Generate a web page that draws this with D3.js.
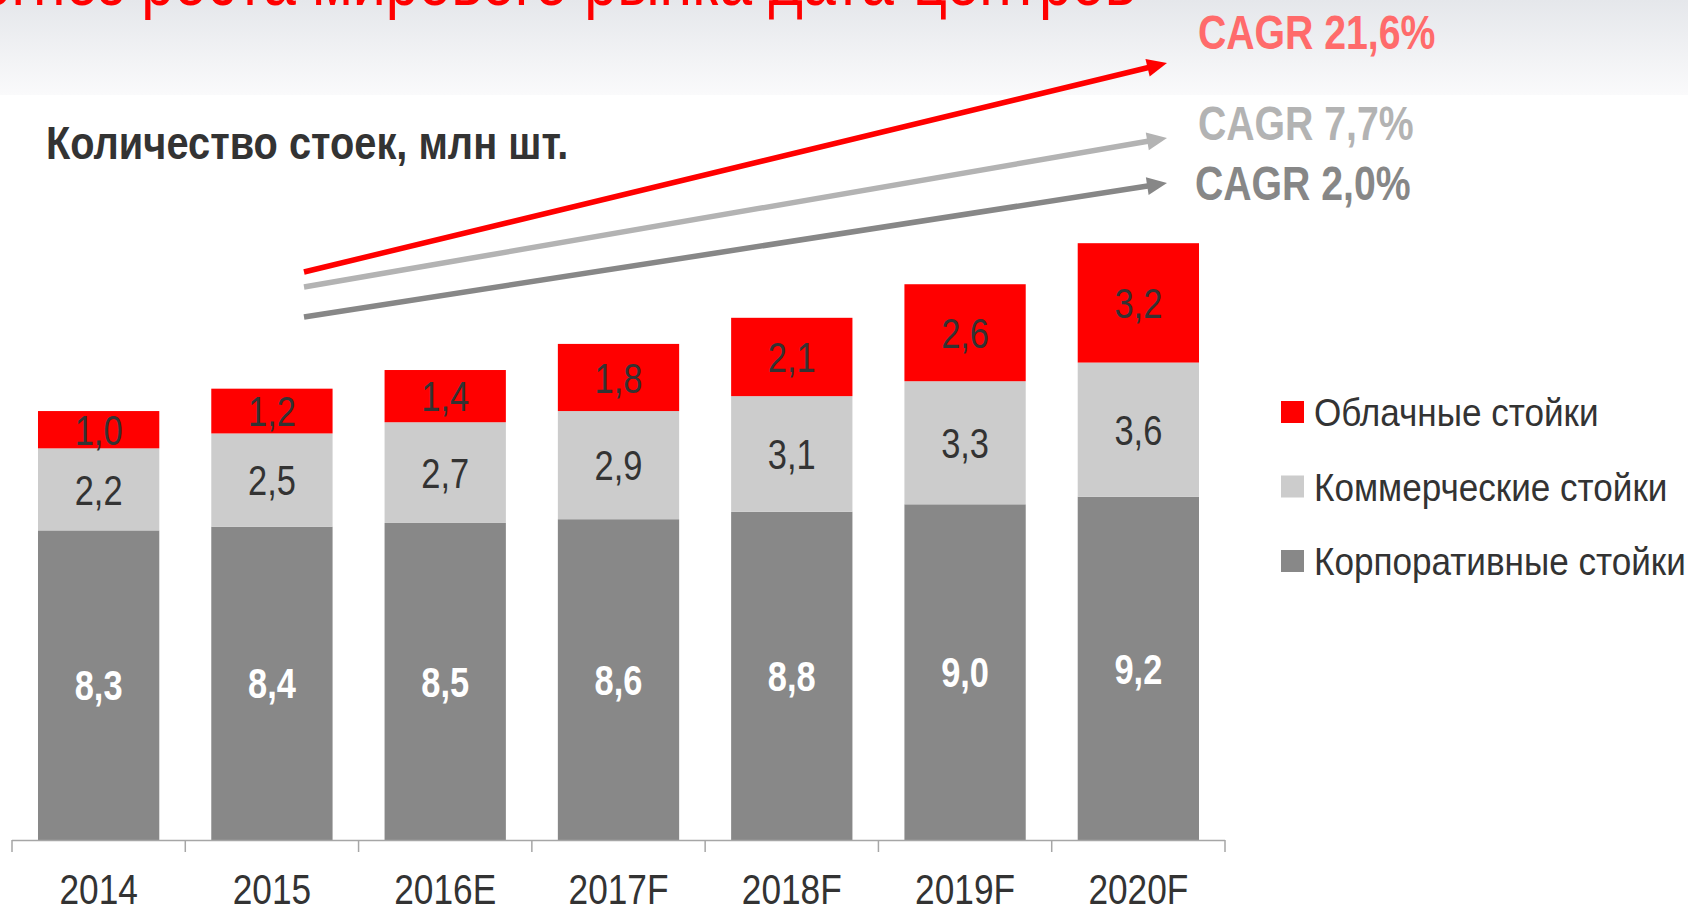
<!DOCTYPE html>
<html>
<head>
<meta charset="utf-8">
<script src="https://cdn.jsdelivr.net/npm/d3@7"></script>
<style>
  html, body { margin: 0; padding: 0; background: #ffffff; }
  svg { display: block; }
</style>
</head>
<body>
<svg id="chart" width="1688" height="908"></svg>
<script>
// ---------------- data ----------------
const years = ["2014", "2015", "2016E", "2017F", "2018F", "2019F", "2020F"];
const corporate = [8.3, 8.4, 8.5, 8.6, 8.8, 9.0, 9.2];
const commercial = [2.2, 2.5, 2.7, 2.9, 3.1, 3.3, 3.6];
const cloud = [1.0, 1.2, 1.4, 1.8, 2.1, 2.6, 3.2];
const seriesKeys = ["corporate", "commercial", "cloud"];
const seriesNames = ["Корпоративные стойки", "Коммерческие стойки", "Облачные стойки"];
const legendOrder = ["cloud", "commercial", "corporate"];
const cagrLabels = ["CAGR 21,6%", "CAGR 7,7%", "CAGR 2,0%"];
const titleText = "Прогноз роста мирового рынка дата-центров";
const subtitleText = "Количество стоек, млн шт.";

// ---------------- styles ----------------
const FONT = "'Liberation Sans', Arial, sans-serif";
const NARROW = 0.82;
const colors = { corporate: "#888888", commercial: "#cccccc", cloud: "#ff0000" };
const labelColors = { corporate: "#ffffff", commercial: "#333333", cloud: "#333333" };
const arrowColors = { cloud: "#ff0000", commercial: "#b3b3b3", corporate: "#878787" };
const cagrTextColors = { cloud: "#ff6b6b", commercial: "#b3b3b3", corporate: "#878787" };

const svg = d3.select("#chart");

// condensed text helper: wraps a text in a horizontally scaled group
function ntext(parent, x, y, str, o) {
  const gg = parent.append("g").attr("transform", `translate(${x},${y}) scale(${o.sx || NARROW},1)`);
  return gg.append("text")
    .attr("x", 0).attr("y", 0)
    .attr("dy", o.dy || null)
    .attr("text-anchor", o.anchor || "start")
    .attr("font-family", FONT)
    .attr("font-size", o.size)
    .attr("font-weight", o.weight || "normal")
    .attr("fill", o.fill)
    .text(str);
}

const defs = svg.append("defs");
const grad = defs.append("linearGradient").attr("id", "bg").attr("x1", 0).attr("y1", 0).attr("x2", 0).attr("y2", 1);
grad.append("stop").attr("offset", "0%").attr("stop-color", "#e5e7eb");
grad.append("stop").attr("offset", "100%").attr("stop-color", "#fafafb");
svg.append("rect").attr("x", 0).attr("y", 0).attr("width", 1688).attr("height", 95).attr("fill", "url(#bg)");

// title (cut off at the top edge, as in the source slide)
ntext(svg, 1136, 5, titleText, { anchor: "end", size: 72, fill: "#ff0000" });

// subtitle
ntext(svg, 46, 159, subtitleText, { size: 46, weight: "bold", sx: 0.865, fill: "#333333" });

// ---------------- scales ----------------
const rows = years.map((y, i) => ({ year: y, corporate: corporate[i], commercial: commercial[i], cloud: cloud[i] }));
const stacked = d3.stack().keys(seriesKeys)(rows);

const x = d3.scaleBand().domain(years).range([12, 1225]).paddingInner(0.3).paddingOuter(0.15);
const y = d3.scaleLinear().domain([0, 16]).range([840, 243.2]);
const fmt = v => d3.format(".1f")(v).replace(".", ",");

// bars
const g = svg.append("g");
stacked.forEach(layer => {
  const key = layer.key;
  g.selectAll(".bar-" + key).data(layer).enter().append("rect")
    .attr("x", d => x(d.data.year))
    .attr("width", x.bandwidth())
    .attr("y", d => y(d[1]))
    .attr("height", d => y(d[0]) - y(d[1]))
    .attr("fill", colors[key]);
});
stacked.forEach(layer => {
  const key = layer.key;
  layer.forEach(d => {
    ntext(g, x(d.data.year) + x.bandwidth() / 2, (y(d[0]) + y(d[1])) / 2, fmt(d.data[key]), {
      anchor: "middle", dy: "0.36em", size: 42,
      weight: key === "corporate" ? "bold" : "normal",
      fill: labelColors[key]
    });
  });
});

// axis
const step = x.step();
const half = step * x.paddingInner() / 2;
const boundaries = years.map(d => x(d) - half).concat([x(years[years.length - 1]) + x.bandwidth() + half]);
const axisG = svg.append("g");
axisG.append("line").attr("x1", boundaries[0]).attr("x2", boundaries[boundaries.length - 1])
  .attr("y1", y(0) + 0.5).attr("y2", y(0) + 0.5).attr("stroke", "#a6a6a6").attr("stroke-width", 1.5);
axisG.selectAll(".tick").data(boundaries).enter().append("line")
  .attr("x1", d => d).attr("x2", d => d).attr("y1", y(0)).attr("y2", y(0) + 12)
  .attr("stroke", "#a6a6a6").attr("stroke-width", 1.5);
years.forEach(d => {
  ntext(axisG, x(d) + x.bandwidth() / 2, 904, d, { anchor: "middle", size: 43, fill: "#333333" });
});

// CAGR arrows
const arrows = [
  { key: "cloud", x1: 304, y1: 272, x2: 1167, y2: 63, ty: 49 },
  { key: "commercial", x1: 304, y1: 287, x2: 1167, y2: 138, ty: 140 },
  { key: "corporate", x1: 304, y1: 317, x2: 1167, y2: 183, ty: 200 }
];
arrows.forEach((a, i) => {
  const ang = Math.atan2(a.y2 - a.y1, a.x2 - a.x1);
  const L = 20, W = 9;
  const bx = a.x2 - L * Math.cos(ang), by = a.y2 - L * Math.sin(ang);
  svg.append("line").attr("x1", a.x1).attr("y1", a.y1).attr("x2", bx + 2 * Math.cos(ang)).attr("y2", by + 2 * Math.sin(ang))
    .attr("stroke", arrowColors[a.key]).attr("stroke-width", 5.5);
  const p = [[a.x2, a.y2],
             [bx + W * Math.sin(ang), by - W * Math.cos(ang)],
             [bx - W * Math.sin(ang), by + W * Math.cos(ang)]];
  svg.append("path").attr("d", d3.line()(p) + "Z").attr("fill", arrowColors[a.key]);
  ntext(svg, i === 2 ? 1195 : 1198, a.ty, cagrLabels[i], { size: 49, weight: "bold", sx: 0.80, fill: cagrTextColors[a.key] });
});

// legend
const legend = svg.append("g");
legendOrder.forEach((key, i) => {
  const cy = 412 + i * 74.5;
  legend.append("rect").attr("x", 1281).attr("y", cy - 11).attr("width", 23).attr("height", 22).attr("fill", colors[key]);
  ntext(legend, 1314, cy, seriesNames[seriesKeys.indexOf(key)], { dy: "0.36em", size: 39, sx: 0.90, fill: "#333333" });
});
</script>
</body>
</html>
